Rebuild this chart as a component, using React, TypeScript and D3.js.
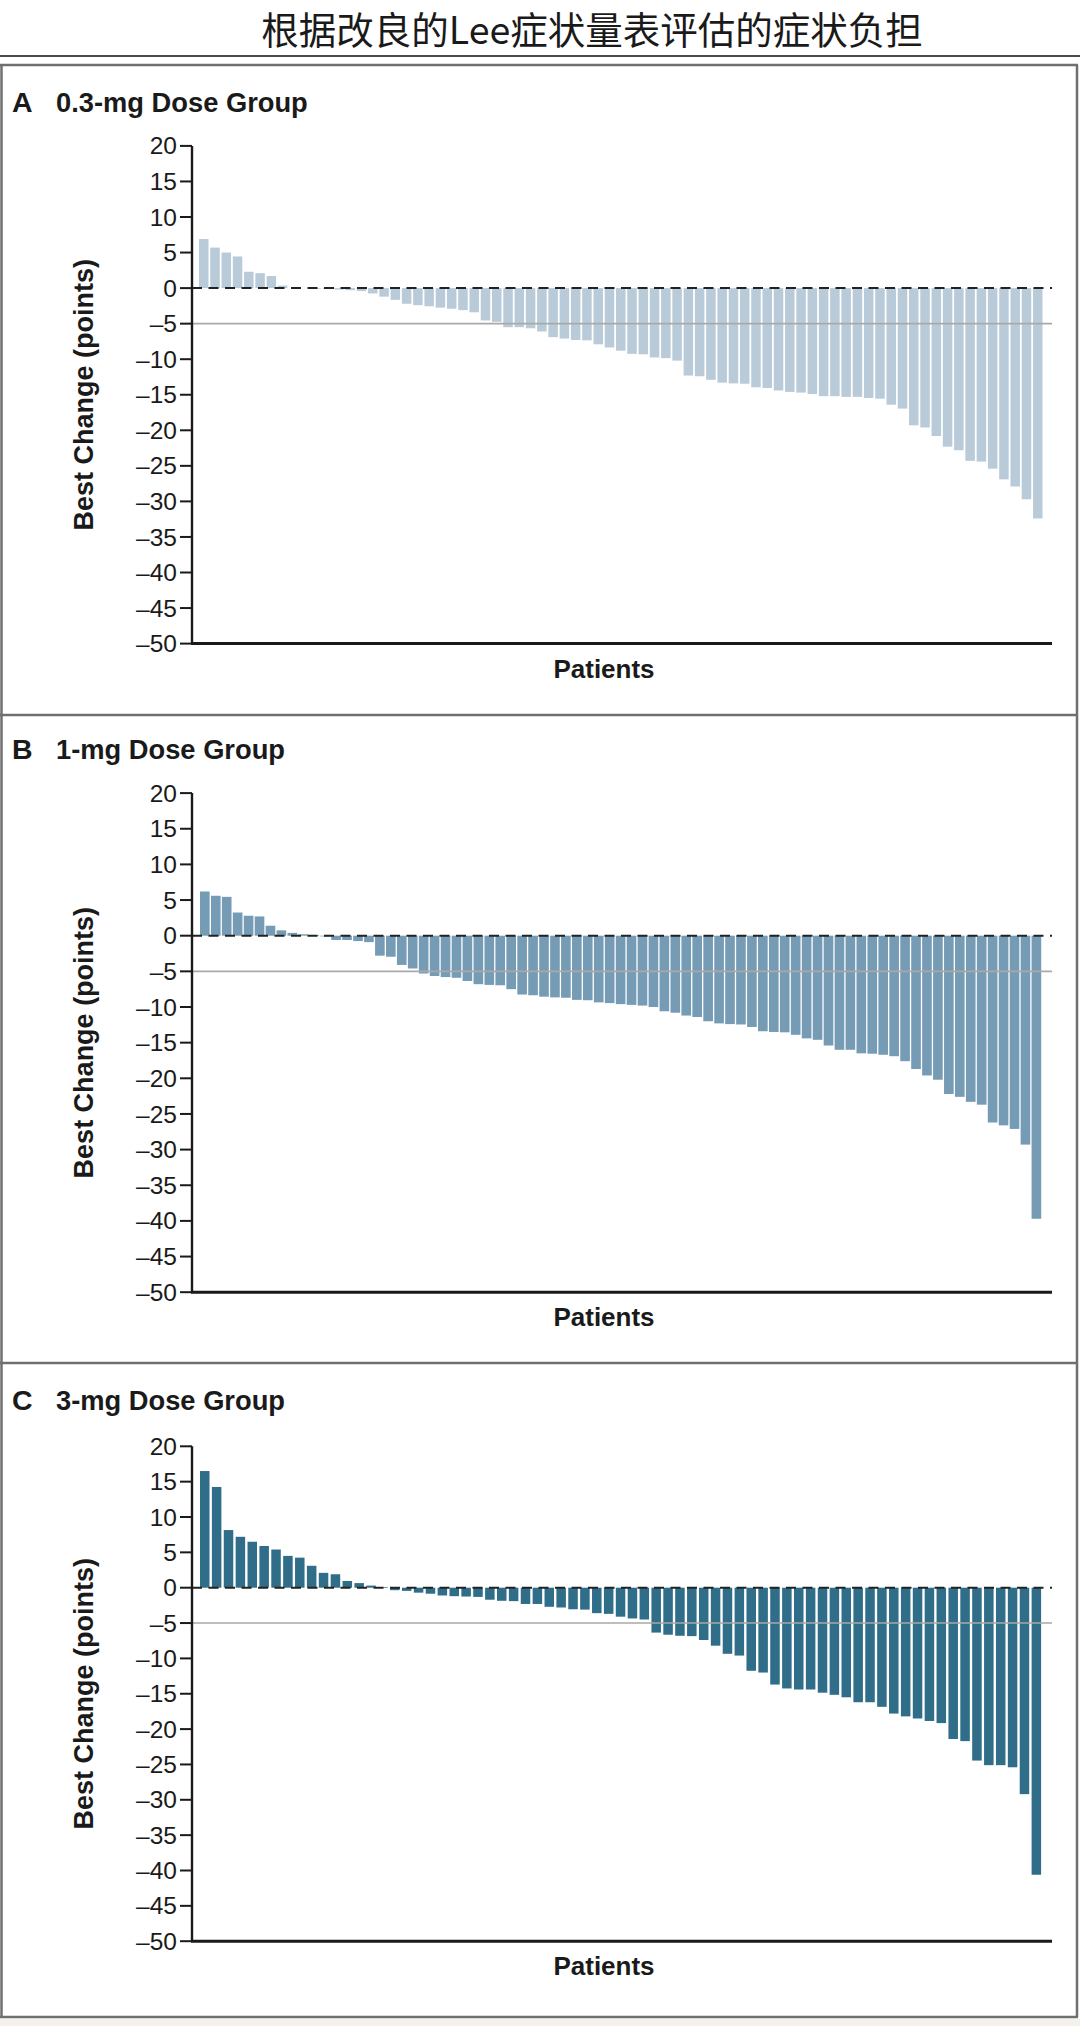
import React from "react";
import * as d3 from "d3";

// ---------- DATA ----------
const chartTitle = "根据改良的Lee症状量表评估的症状负担";
const panelLetters = ["A", "B", "C"];
const panelTitles = ["0.3-mg Dose Group", "1-mg Dose Group", "3-mg Dose Group"];
const yAxisLabel = "Best Change (points)";
const xAxisLabel = "Patients";
const yTicks = [20, 15, 10, 5, 0, -5, -10, -15, -20, -25, -30, -35, -40, -45, -50];
const referenceLine = -5;

const dose03 = [
  6.9, 5.7, 5.0, 4.45, 2.3, 2.1, 1.7, 0.35, 0, 0, -0.1, -0.1, -0.2, -0.3, -0.4,
  -0.75, -1.2, -1.65, -2.2, -2.4, -2.55, -2.75, -2.9, -3.1, -3.4, -4.55, -4.75,
  -5.5, -5.5, -5.65, -6.1, -6.9, -7.1, -7.3, -7.35, -7.9, -8.35, -8.8, -9.25,
  -9.3, -9.75, -9.85, -10.2, -12.3, -12.4, -12.9, -13.3, -13.4, -13.45, -13.95,
  -14.05, -14.4, -14.6, -14.7, -14.9, -15.2, -15.2, -15.3, -15.3, -15.45, -15.55,
  -16.4, -16.95, -19.3, -19.6, -20.8, -22.3, -22.8, -24.3, -24.4, -25.4, -26.9,
  -27.9, -29.7, -32.4,
];

const dose1 = [
  6.2, 5.6, 5.45, 3.25, 2.8, 2.7, 1.4, 0.75, 0.4, 0.2, 0.1, -0.1, -0.6, -0.6,
  -0.75, -0.9, -2.8, -2.95, -4.1, -4.6, -5.3, -5.65, -5.8, -5.9, -6.35, -6.8,
  -6.9, -6.95, -7.5, -8.25, -8.35, -8.55, -8.65, -8.7, -9.0, -9.05, -9.35, -9.45,
  -9.6, -9.7, -9.8, -10.0, -10.6, -10.8, -11.2, -11.4, -12.0, -12.3, -12.4,
  -12.45, -12.8, -13.4, -13.5, -13.55, -13.9, -14.4, -14.6, -15.4, -16.0, -16.0,
  -16.5, -16.55, -16.7, -16.9, -17.6, -18.7, -19.6, -20.2, -22.2, -22.6, -23.3,
  -23.7, -26.2, -26.6, -27.1, -29.3, -39.7,
];

const dose3 = [
  16.5, 14.25, 8.15, 7.2, 6.5, 5.9, 5.4, 4.5, 4.25, 3.1, 2.1, 1.9, 0.95, 0.65,
  0.3, 0.1, -0.35, -0.45, -0.7, -0.85, -1.1, -1.2, -1.25, -1.3, -1.7, -1.85,
  -1.9, -2.3, -2.3, -2.7, -2.8, -3.05, -3.1, -3.6, -3.7, -4.1, -4.35, -4.5,
  -6.35, -6.65, -6.8, -6.85, -7.4, -8.2, -9.35, -9.6, -11.75, -12.0, -13.7,
  -14.25, -14.4, -14.4, -14.85, -15.15, -15.5, -16.2, -16.2, -16.85, -17.8,
  -18.2, -18.5, -18.85, -19.15, -21.4, -21.7, -24.45, -25.1, -25.1, -25.4,
  -29.2, -40.6,
];

const panelValues = [dose03, dose1, dose3];
const panelColors = ["#b9cbd9", "#769bb4", "#2f6d88"];

// ---------- LAYOUT ----------
const W = 1080;
const H = 2026;
const AXIS_X = 192;
const PLOT_RIGHT = 1052;
const LABEL_FONT = "'Liberation Sans', Arial, sans-serif";
const BORDER = "#6f6f6f";

const layouts = [
  { boxTop: 65, titleY: 111.5, yTop: 145.9, yBottom: 643.6, bandStart: 199, bandEnd: 1042.5, pad: 0.157 },
  { boxTop: 715, titleY: 759, yTop: 793.1, yBottom: 1292.2, bandStart: 200, bandEnd: 1041.2, pad: 0.12 },
  { boxTop: 1363, titleY: 1410, yTop: 1446.3, yBottom: 1941.2, bandStart: 200, bandEnd: 1041.1, pad: 0.2 },
];
const BOX_BOTTOM = 2017;

const fmt = (d: number) => (d < 0 ? `\u2013${Math.abs(d)}` : `${d}`);

function Panel({ idx }: { idx: number }) {
  const L = layouts[idx];
  const values = panelValues[idx];
  const color = panelColors[idx];
  const y = d3.scaleLinear().domain([-50, 20]).range([L.yBottom, L.yTop]);
  const x = d3
    .scaleBand<number>()
    .domain(d3.range(values.length))
    .range([L.bandStart, L.bandEnd])
    .paddingInner(L.pad)
    .paddingOuter(0);
  const y0 = y(0);
  return (
    <g>
      {/* panel heading */}
      <text x={12} y={L.titleY} fontFamily={LABEL_FONT} fontWeight={700} fontSize={28.5} fill="#1a1a1a">
        {panelLetters[idx]}
      </text>
      <text x={56} y={L.titleY} fontFamily={LABEL_FONT} fontWeight={700} fontSize={27.3} fill="#1a1a1a">
        {panelTitles[idx]}
      </text>

      {/* bars */}
      {values.map((v, i) => (
        <rect
          key={i}
          x={x(i)}
          width={x.bandwidth()}
          y={Math.min(y(v), y0)}
          height={Math.abs(y(v) - y0)}
          fill={color}
        />
      ))}

      {/* reference line at -5 */}
      <line x1={AXIS_X} x2={PLOT_RIGHT} y1={y(referenceLine)} y2={y(referenceLine)} stroke="#a9a9a9" strokeWidth={1.6} />
      {/* dashed zero line */}
      <line
        x1={AXIS_X}
        x2={PLOT_RIGHT}
        y1={y0}
        y2={y0}
        stroke="#222"
        strokeWidth={2}
        strokeDasharray="10 6.5"
      />

      {/* y axis */}
      <line x1={AXIS_X} x2={AXIS_X} y1={y(20)} y2={y(-50)} stroke="#1a1a1a" strokeWidth={2.4} />
      {yTicks.map((t) => (
        <g key={t}>
          <line x1={AXIS_X - 12} x2={AXIS_X} y1={y(t)} y2={y(t)} stroke="#1a1a1a" strokeWidth={2} />
          <text
            x={177}
            y={y(t)}
            dy="0.35em"
            textAnchor="end"
            fontFamily={LABEL_FONT}
            fontSize={24.5}
            fill="#1a1a1a"
          >
            {fmt(t)}
          </text>
        </g>
      ))}
      {/* x axis */}
      <line x1={AXIS_X - 1} x2={PLOT_RIGHT} y1={y(-50)} y2={y(-50)} stroke="#1a1a1a" strokeWidth={3} />

      {/* axis titles */}
      <text
        transform={`translate(93, ${y(-15)}) rotate(-90)`}
        textAnchor="middle"
        fontFamily={LABEL_FONT}
        fontWeight={700}
        fontSize={27}
        fill="#1a1a1a"
      >
        {yAxisLabel}
      </text>
      <text
        x={604}
        y={y(-50) + 34}
        textAnchor="middle"
        fontFamily={LABEL_FONT}
        fontWeight={700}
        fontSize={26}
        fill="#1a1a1a"
      >
        {xAxisLabel}
      </text>
    </g>
  );
}

export default function App() {
  return (
    <div style={{ position: "absolute", left: 0, top: 0, width: W, height: H, background: "#fff" }}>
      <svg width={W} height={H} viewBox={`0 0 ${W} ${H}`} style={{ display: "block" }}>
        <rect x={0} y={0} width={W} height={H} fill="#fff" />
        <text
          x={592}
          y={44}
          textAnchor="middle"
          fontFamily="'Noto Sans CJK SC', sans-serif"
          fontSize={37.5}
          fill="#1a1a1a"
        >
          {chartTitle}
        </text>
        <line x1={0} x2={W} y1={56} y2={56} stroke="#4a4a4a" strokeWidth={2} />

        {/* panel frames */}
        <line x1={1.5} x2={1.5} y1={65} y2={BOX_BOTTOM} stroke={BORDER} strokeWidth={2.5} />
        <line x1={1077} x2={1077} y1={65} y2={BOX_BOTTOM} stroke={BORDER} strokeWidth={2.5} />
        {layouts.map((L, i) => (
          <line key={i} x1={0} x2={1078} y1={L.boxTop} y2={L.boxTop} stroke={BORDER} strokeWidth={2.5} />
        ))}
        <line x1={0} x2={1078} y1={BOX_BOTTOM} y2={BOX_BOTTOM} stroke={BORDER} strokeWidth={2.5} />
        <rect x={0} y={BOX_BOTTOM + 2} width={W} height={H - BOX_BOTTOM - 2} fill="#f4f0eb" />

        {panelValues.map((_, i) => (
          <Panel key={i} idx={i} />
        ))}
      </svg>
    </div>
  );
}
